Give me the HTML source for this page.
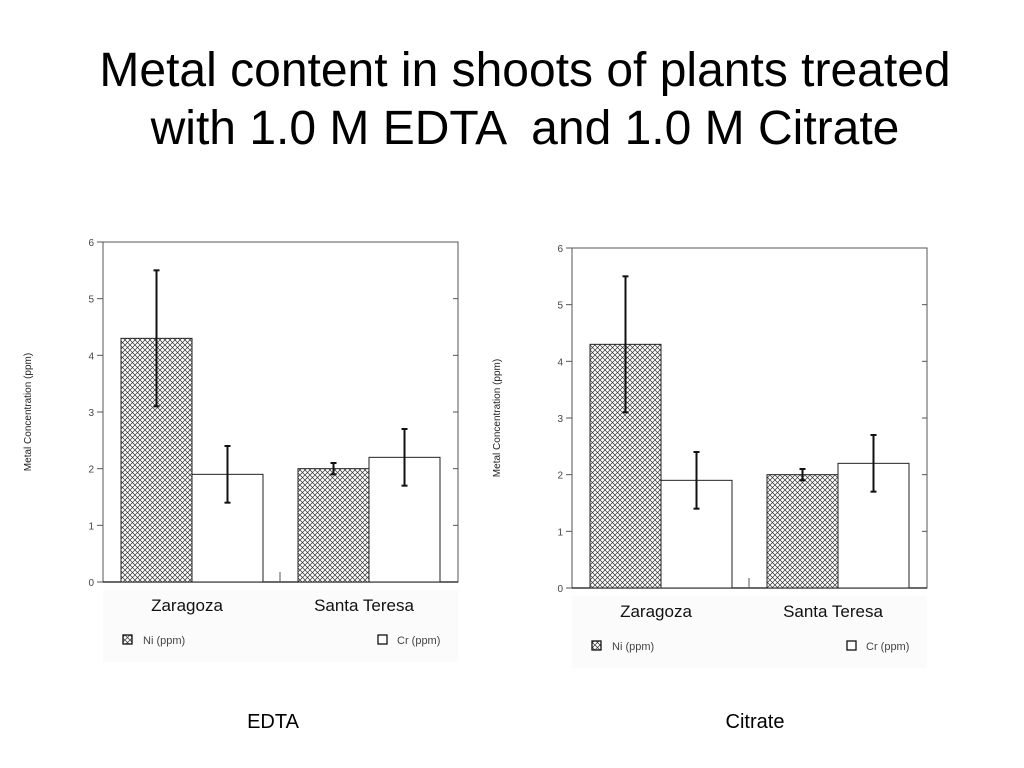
<!DOCTYPE html>
<html><head><meta charset="utf-8"><style>
body{margin:0;background:#fff;width:1024px;height:768px;overflow:hidden;font-family:"Liberation Sans",sans-serif}
h1{position:absolute;left:0;top:42px;width:1050px;margin:0;text-align:center;font-weight:normal;font-size:48px;line-height:58px;color:#000}
</style></head><body>
<h1>Metal content in shoots of plants treated<br>with 1.0 M EDTA &nbsp;and 1.0 M Citrate</h1>
<svg id="s" width="1024" height="768" style="position:absolute;left:0;top:0">
<defs><pattern id="hatch" width="5" height="5" patternUnits="userSpaceOnUse"><rect width="5" height="5" fill="#fff"/><path d="M0 0L5 5M5 0L0 5" stroke="#333" stroke-width="0.7"/></pattern></defs>
</svg>
<script>
const categories=["Zaragoza","Santa Teresa"];
const niValues=[4.3,2.0];
const niErr=[1.2,0.1];
const crValues=[1.9,2.2];
const crErr=[0.5,0.5];
const yTicks=[0,1,2,3,4,5,6];
const svg=document.getElementById('s');
const NS='http://www.w3.org/2000/svg';
function mk(t,a,p,txt){const e=document.createElementNS(NS,t);for(const k in a)e.setAttribute(k,a[k]);if(txt!==undefined)e.textContent=txt;(p||svg).appendChild(e);return e;}
function chart(x0,y0,name,caption,cx){
 const W=355,H=340,x1=x0+W,y1=y0+H;
 const g=mk('g',{});
 
 
 const ys=v=>y1-v/6*H;
 mk('rect',{x:x0,y:y1+8,width:W,height:72,fill:'#fbfbfb'},g);
 mk('rect',{x:x0,y:y0,width:W,height:H,fill:'#fff',stroke:'#555','stroke-width':1},g);
 yTicks.forEach(t=>{
  mk('line',{x1:x0-6,x2:x0,y1:ys(t),y2:ys(t),stroke:'#555'},g);
  mk('line',{x1:x1-5,x2:x1,y1:ys(t),y2:ys(t),stroke:'#555'},g);
  const tl=mk('text',{x:x0-9,y:ys(t)+4,'text-anchor':'end','font-size':10,fill:'#444'},g,String(t));
  
 });
 mk('line',{x1:x0,x2:x1,y1:y1,y2:y1,stroke:'#111','stroke-width':1.3},g);
 const yt=mk('text',{transform:`translate(${x0-72},${ys(3)}) rotate(-90)`,'text-anchor':'middle','font-size':10,fill:'#222'},g,'Metal Concentration (ppm)');
 
 const groupW=177,bw=71;
 categories.forEach((c,i)=>{
  const gx=x0+18+i*groupW;
  [[niValues,niErr,'url(#hatch)'],[crValues,crErr,'#fff']].forEach((s,j)=>{
   const v=s[0][i],e=s[1][i],bx=gx+j*bw;
   const r=mk('rect',{x:bx,y:ys(v),width:bw,height:ys(0)-ys(v),fill:s[2],stroke:'#222','stroke-width':1},g);
   
   const mx=bx+bw/2;
   mk('line',{x1:mx,x2:mx,y1:ys(v+e),y2:ys(v-e),stroke:'#111','stroke-width':2},g);
   mk('line',{x1:mx-3,x2:mx+3,y1:ys(v+e),y2:ys(v+e),stroke:'#111','stroke-width':2},g);
   mk('line',{x1:mx-3,x2:mx+3,y1:ys(v-e),y2:ys(v-e),stroke:'#111','stroke-width':2},g);
  });
  const cl=mk('text',{x:gx+bw-5,y:y1+29,'text-anchor':'middle','font-size':17,fill:'#111'},g,c);
  
 });
 mk('line',{x1:x0+177,x2:x0+177,y1:y1-10,y2:y1,stroke:'#555'},g);
 const le=mk('g',{},g);
 
 
 mk('rect',{x:x0+20,y:y1+53,width:9,height:9,fill:'url(#hatch)',stroke:'#111','stroke-width':1.3},le);
 mk('text',{x:x0+40,y:y1+62,'font-size':11,fill:'#444'},le,'Ni (ppm)');
 mk('rect',{x:x0+275,y:y1+53,width:9,height:9,fill:'#fff',stroke:'#111','stroke-width':1.3},le);
 mk('text',{x:x0+294,y:y1+62,'font-size':11,fill:'#444'},le,'Cr (ppm)');
 const cp=mk('text',{x:cx,y:728,'text-anchor':'middle','font-size':20,fill:'#000'},g,caption);
 
}
chart(103,242,'edta-chart','EDTA',273);
chart(572,248,'citrate-chart','Citrate',755);
</script>
</body></html>
